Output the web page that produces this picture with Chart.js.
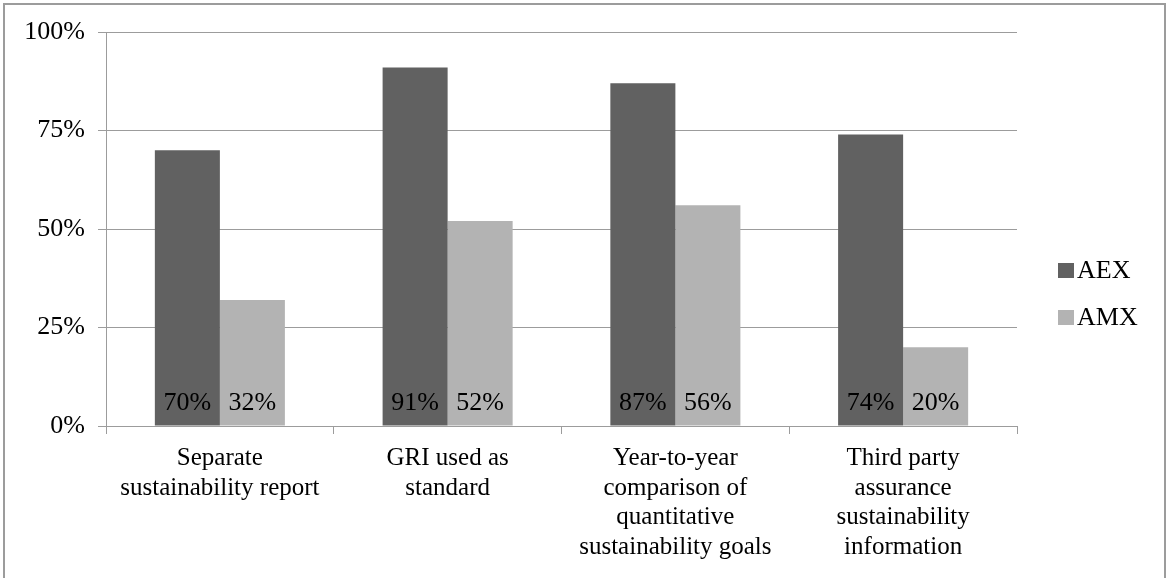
<!DOCTYPE html>
<html>
<head>
<meta charset="utf-8">
<script src="https://cdn.jsdelivr.net/npm/chart.js"></script>
<style>
    body { margin: 0; background: #ffffff; }
    #wrap { width: 1168px; height: 578px; }
</style>
</head>
<body>
<div id="wrap"><canvas id="chart" width="1168" height="578"></canvas></div>
<script>
const categories = [
    ['Separate', 'sustainability report'],
    ['GRI used as', 'standard'],
    ['Year-to-year', 'comparison of', 'quantitative', 'sustainability goals'],
    ['Third party', 'assurance', 'sustainability', 'information']
];
const aexValues = [70, 91, 87, 74];
const amxValues = [32, 52, 56, 20];
const yTicks = [0, 25, 50, 75, 100];

const serif = "'Liberation Serif', 'Times New Roman', serif";

const framePlugin = {
    id: 'frame',
    beforeDraw: function(chart) {
        const ctx = chart.ctx;
        ctx.save();
        ctx.fillStyle = '#ffffff';
        ctx.fillRect(0, 0, chart.width, chart.height);
        ctx.strokeStyle = '#9c9c9c';
        ctx.lineWidth = 2;
        ctx.strokeRect(4, 4, chart.width - 7, chart.height + 20);
        ctx.restore();
    }
};

// percentage written near the foot of each bar
const valueLabels = {
    id: 'valueLabels',
    afterDatasetsDraw: function(chart) {
        const ctx = chart.ctx;
        ctx.save();
        ctx.font = '26px ' + serif;
        ctx.fillStyle = '#000000';
        ctx.textAlign = 'center';
        ctx.textBaseline = 'middle';
        chart.data.datasets.forEach(function(ds, i) {
            chart.getDatasetMeta(i).data.forEach(function(bar, j) {
                ctx.fillText(ds.data[j] + '%', bar.x, bar.base - 22);
            });
        });
        ctx.restore();
    }
};

// legend on the right, box sitting right against the text
const sideLegend = {
    id: 'sideLegend',
    afterDraw: function(chart) {
        const ctx = chart.ctx;
        ctx.save();
        ctx.font = '26px ' + serif;
        ctx.textBaseline = 'middle';
        ctx.textAlign = 'left';
        chart.data.datasets.forEach(function(ds, i) {
            const y = 270 + i * 47;
            ctx.fillStyle = ds.backgroundColor;
            ctx.fillRect(1058, y - 7, 16, 15);
            ctx.fillStyle = '#000000';
            ctx.fillText(ds.label, 1077, y + 1);
        });
        ctx.restore();
    }
};

function drawChart() {
    const ctx = document.getElementById('chart').getContext('2d');
    new Chart(ctx, {
        type: 'bar',
        data: {
            labels: categories,
            datasets: [
                {
                    label: 'AEX',
                    data: aexValues,
                    backgroundColor: '#616161',
                    borderWidth: 0
                },
                {
                    label: 'AMX',
                    data: amxValues,
                    backgroundColor: '#b3b3b3',
                    borderWidth: 0
                }
            ]
        },
        options: {
            responsive: false,
            animation: false,
            categoryPercentage: 0.571,
            barPercentage: 1,
            layout: {
                padding: { top: 32, right: 151, bottom: 0, left: 0 }
            },
            plugins: {
                legend: { display: false },
                tooltip: { enabled: false }
            },
            scales: {
                x: {
                    grid: {
                        offset: true,
                        drawOnChartArea: false,
                        drawTicks: true,
                        tickLength: 8,
                        color: '#9c9c9c'
                    },
                    border: { color: '#9c9c9c' },
                    ticks: {
                        color: '#000000',
                        padding: 10,
                        maxRotation: 0,
                        autoSkip: false,
                        font: { family: serif, size: 25, lineHeight: 1.18 }
                    },
                    afterFit: function(scale) { scale.height = 152; }
                },
                y: {
                    min: 0,
                    max: 100,
                    afterBuildTicks: function(scale) {
                        scale.ticks = yTicks.map(function(v) { return { value: v }; });
                    },
                    grid: {
                        color: '#9c9c9c',
                        tickLength: 8
                    },
                    border: { color: '#9c9c9c' },
                    ticks: {
                        color: '#000000',
                        padding: 13,
                        font: { family: serif, size: 26 },
                        callback: function(v) { return v + '%'; }
                    },
                    afterFit: function(scale) { scale.width = 106; }
                }
            }
        },
        plugins: [framePlugin, valueLabels, sideLegend]
    });
}

document.fonts.load("26px 'Liberation Serif'").then(drawChart, drawChart);
</script>
</body>
</html>
